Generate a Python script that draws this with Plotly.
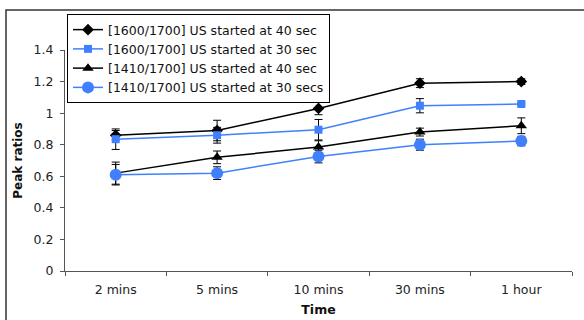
import plotly.graph_objects as go

categories = ["2 mins", "5 mins", "10 mins", "30 mins", "1 hour"]

s1_name = "[1600/1700] US started at 40 sec"
s1_vals = [0.86, 0.89, 1.03, 1.19, 1.20]
s1_err = [0.03, 0.065, 0.04, 0.028, 0.018]

s2_name = "[1600/1700] US started at 30 sec"
s2_vals = [0.835, 0.86, 0.895, 1.047, 1.058]
s2_err = [0.065, 0.05, 0.065, 0.045, 0.008]

s3_name = "[1410/1700] US started at 40 sec"
s3_vals = [0.62, 0.72, 0.785, 0.88, 0.92]
s3_err = [0.07, 0.04, 0.04, 0.025, 0.05]

s4_name = "[1410/1700] US started at 30 secs"
s4_vals = [0.61, 0.62, 0.725, 0.80, 0.823]
s4_err = [0.065, 0.04, 0.04, 0.035, 0.03]

BLACK = "#000000"
BLUE = "#4080FF"

series = [
    (s1_name, s1_vals, s1_err, BLACK, "diamond", 9),
    (s2_name, s2_vals, s2_err, BLUE, "square", 8),
    (s3_name, s3_vals, s3_err, BLACK, "triangle-up", 10),
    (s4_name, s4_vals, s4_err, BLUE, "circle", 12),
]

fig = go.Figure()
for name, vals, err, color, sym, size in series:
    fig.add_trace(go.Scatter(
        x=categories, y=vals, name=name, mode="lines+markers",
        line=dict(color=color, width=1.5),
        marker=dict(symbol=sym, size=size, color=color),
        error_y=dict(type="data", array=err, visible=True, color="#000000",
                     thickness=1, width=4),
    ))

font = "'DejaVu Sans', sans-serif"
L, R, T, B = 65, 12, 50, 49
W, H = 584, 320
pw = W - L - R
ph = H - T - B

fig.update_layout(
    width=W, height=H,
    margin=dict(l=L, r=R, t=T, b=B, autoexpand=False),
    paper_bgcolor="white", plot_bgcolor="white",
    font=dict(family=font, size=12, color="#222222"),
    showlegend=True,
    legend=dict(
        x=(67 - L) / pw, y=(H - B - 14) / ph, xanchor="left", yanchor="top",
        bgcolor="white", bordercolor="#000000", borderwidth=1,
        font=dict(family=font, size=12.5, color="#111111"),
        tracegroupgap=0,
    ),
    xaxis=dict(
        type="category", range=[-0.5, 4.5], showgrid=False, zeroline=False,
        showline=True, linecolor="#555555", linewidth=1,
        ticks="outside", ticklen=4, tickcolor="#555555", tickson="boundaries",
        ticklabelstandoff=7,
        tickfont=dict(size=12.5, color="#222222"),
        title=dict(text="<b>Time</b>", font=dict(size=12.5, color="#111111"), standoff=9),
    ),
    yaxis=dict(
        range=[0, 1.4], dtick=0.2, showgrid=False, zeroline=False,
        showline=True, linecolor="#555555", linewidth=1,
        ticks="outside", ticklen=4, tickcolor="#555555",
        ticklabelstandoff=4,
        tickfont=dict(size=12.5, color="#222222"),
        tickformat="~g",
        title=dict(text="<b>Peak ratios</b>", font=dict(size=12, color="#111111"), standoff=8),
    ),
    shapes=[dict(
        type="rect", xref="paper", yref="paper",
        x0=(6 - L) / pw, x1=1.2, y0=-0.5, y1=(H - B - 10) / ph,
        line=dict(color="#333333", width=1.5), fillcolor="rgba(0,0,0,0)", layer="below",
    )],
)

fig.write_html("out.html", config={"displayModeBar": False},
               post_script="document.body.style.margin='0';document.body.style.overflow='hidden';")
